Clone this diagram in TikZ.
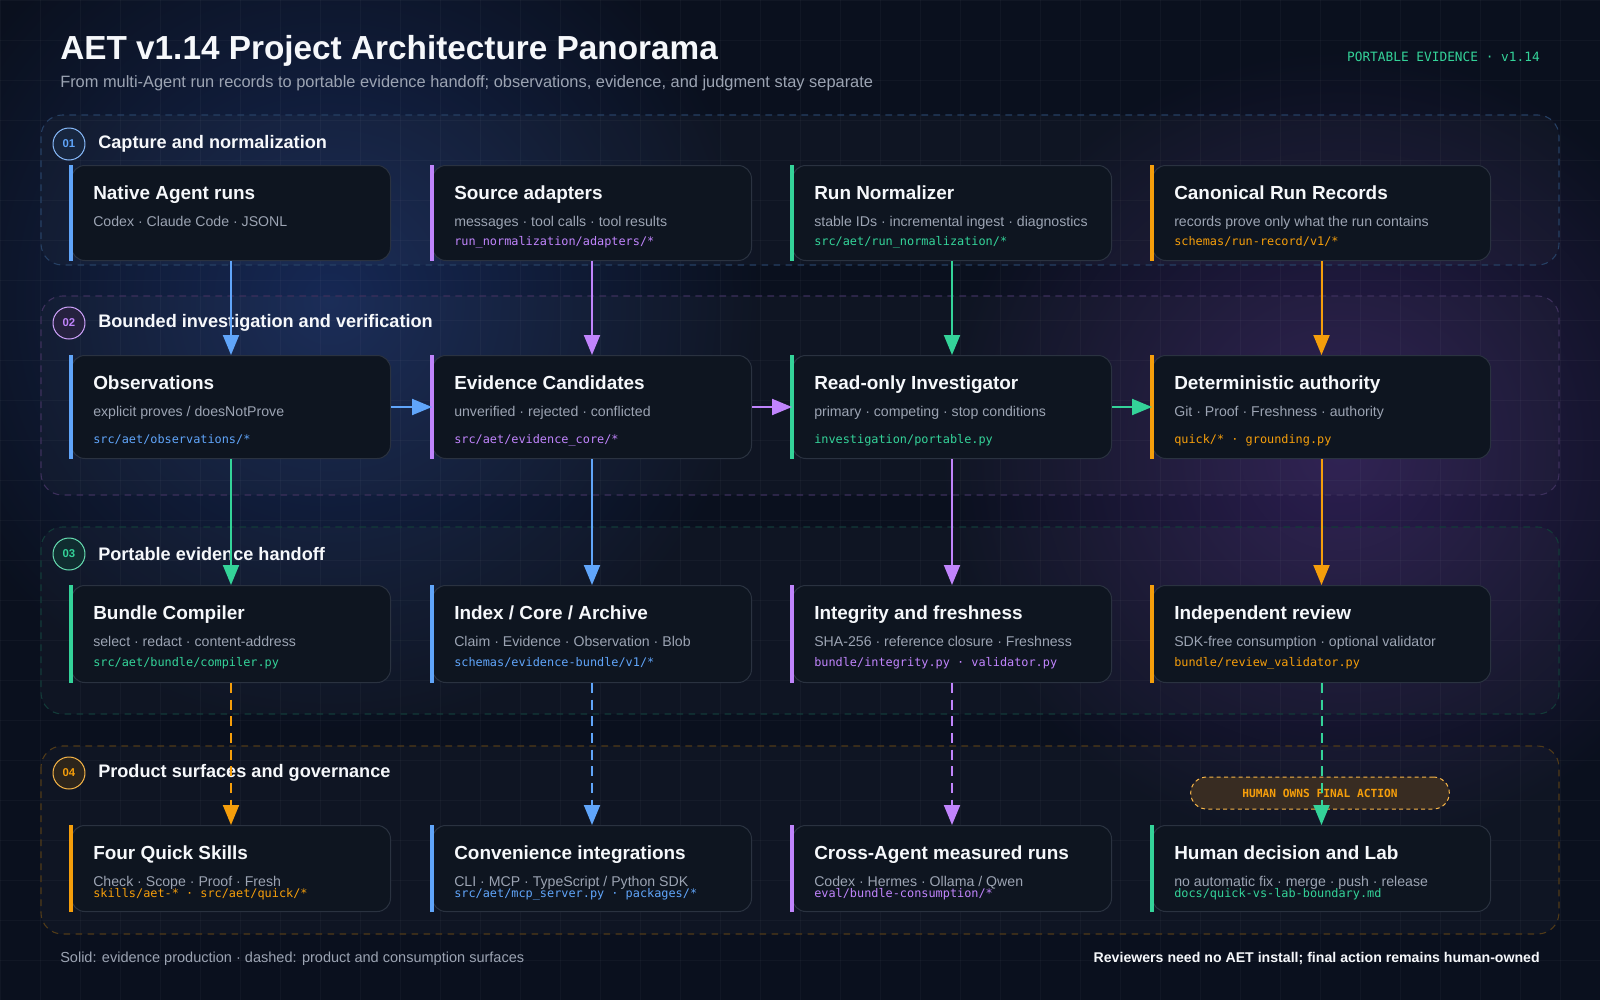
\documentclass[tikz,border=0pt]{standalone}
\usepackage{fontspec}
\setmainfont{Liberation Sans}
\setmonofont{DejaVu Sans Mono}
\usetikzlibrary{arrows.meta}

\begin{document}
\begin{tikzpicture}[x=0.75pt, y=-0.75pt, line join=round,
  card/.style={draw=cardline, fill=cardbg, line width=0.75pt, rounded corners=10pt,
    anchor=north west, inner sep=0pt, minimum width=239.25pt},
  wide/.style={minimum width=253.5pt},
  accent/.style={line width=3pt, line cap=butt},
  ttl/.style={anchor=base west, inner sep=0pt, text=titletext, font=\bfseries\fontsize{14.2pt}{16pt}\selectfont},
  subline/.style={anchor=base west, inner sep=0pt, text=subtext, font=\fontsize{10.6pt}{12pt}\selectfont},
  ref/.style={anchor=base west, inner sep=0pt, font=\ttfamily\fontsize{8.9pt}{10pt}\selectfont},
  band/.style={fill=white, fill opacity=0.025, line width=0.8pt, dash pattern=on 5pt off 4pt, rounded corners=16pt},
  badge/.style={circle, minimum size=24pt, inner sep=0pt, line width=0.75pt, font=\bfseries\fontsize{8.5pt}{9pt}\selectfont},
  bandlabel/.style={anchor=west, inner sep=0pt, text=titletext, font=\bfseries\fontsize{13.6pt}{15pt}\selectfont},
  flow/.style={line width=1.5pt, line cap=butt, -{Triangle[length=15pt,width=12pt]}},
  soft/.style={flow, dash pattern=on 7.5pt off 5pt}]
  \definecolor{bg}{RGB}{10,16,30}
  \definecolor{glowblue}{RGB}{22,40,84}
  \definecolor{glowpurple}{RGB}{44,30,80}
  \definecolor{cardbg}{RGB}{14,21,32}
  \definecolor{cardline}{RGB}{42,50,64}
  \definecolor{titletext}{RGB}{246,248,251}
  \definecolor{subtext}{RGB}{156,164,179}
  \definecolor{cblue}{RGB}{96,165,250}
  \definecolor{cpurple}{RGB}{192,132,252}
  \definecolor{cgreen}{RGB}{52,211,153}
  \definecolor{corange}{RGB}{245,158,11}
  \definecolor{pillbg}{RGB}{56,44,34}

  % background, glows, grid
  \fill[bg] (0,0) rectangle (1600,1000);
  \useasboundingbox (0,0) rectangle (1600,1000);
  \shade[inner color=glowblue, outer color=bg] (330,300) circle (430);
  \shade[inner color=glowpurple, outer color=bg] (1340,450) circle (400);
  \foreach \gx in {0,40,...,1600} \draw[white, line width=0.5pt, opacity=0.03] (\gx,0) -- (\gx,1000);
  \foreach \gy in {0,40,...,1000} \draw[white, line width=0.5pt, opacity=0.03] (0,\gy) -- (1600,\gy);

  % header
  \node[anchor=base west, inner sep=0pt, text=titletext, font=\bfseries\fontsize{25pt}{28pt}\selectfont]
    (title) at (60,59) {AET v1.14 Project Architecture Panorama};
  \node[anchor=base west, inner sep=0pt, text=subtext, font=\fontsize{12.3pt}{14pt}\selectfont]
    (subtitle) at (60,87) {From multi-Agent run records to portable evidence handoff; observations, evidence, and judgment stay separate};
  \node[anchor=base east, inner sep=0pt, text=cgreen, font=\ttfamily\fontsize{9.6pt}{11pt}\selectfont]
    (tag) at (1540,61) {PORTABLE EVIDENCE · v1.14};

  % bands
  \draw[band, draw=cblue!32!bg] (41,115) rectangle (1559,265);
  \draw[band, draw=cpurple!28!bg] (41,296) rectangle (1559,495);
  \draw[band, draw=cgreen!22!bg] (41,527) rectangle (1559,714);
  \draw[band, draw=corange!30!bg] (41,746) rectangle (1559,934);
  \node[badge, draw=cblue!75, fill=cblue!15!bg, text=cblue] (b1) at (69,144) {01};
  \node[badge, draw=cpurple!75, fill=cpurple!15!bg, text=cpurple] (b2) at (69,323) {02};
  \node[badge, draw=cgreen!75, fill=cgreen!15!bg, text=cgreen] (b3) at (69,554) {03};
  \node[badge, draw=corange!75, fill=corange!15!bg, text=corange] (b4) at (69,773) {04};
  \node[bandlabel] (l1) at (98,144) {Capture and normalization};
  \node[bandlabel] (l2) at (98,323) {Bounded investigation and verification};
  \node[bandlabel] (l3) at (98,554) {Portable evidence handoff};
  \node[bandlabel] (l4) at (98,773) {Product surfaces and governance};

  % row 1
  \node[card, minimum height=71.25pt] (native) at (71,165) {};
  \draw[accent, cblue] (native.north west) -- (native.south west);
  \node[ttl] (native-t) at ([shift={(22,34)}]native.north west) {Native Agent runs};
  \node[subline] (native-s) at ([shift={(22,61)}]native.north west) {Codex · Claude Code · JSONL};

  \node[card, minimum height=71.25pt] (adapters) at (432,165) {};
  \draw[accent, cpurple] (adapters.north west) -- (adapters.south west);
  \node[ttl] (adapters-t) at ([shift={(22,34)}]adapters.north west) {Source adapters};
  \node[subline] (adapters-s) at ([shift={(22,61)}]adapters.north west) {messages · tool calls · tool results};
  \node[ref, text=cpurple] (adapters-r) at ([shift={(22,80)}]adapters.north west) {run\_normalization/adapters/*};

  \node[card, minimum height=71.25pt] (normalizer) at (792,165) {};
  \draw[accent, cgreen] (normalizer.north west) -- (normalizer.south west);
  \node[ttl] (normalizer-t) at ([shift={(22,34)}]normalizer.north west) {Run Normalizer};
  \node[subline] (normalizer-s) at ([shift={(22,61)}]normalizer.north west) {stable IDs · incremental ingest · diagnostics};
  \node[ref, text=cgreen] (normalizer-r) at ([shift={(22,80)}]normalizer.north west) {src/aet/run\_normalization/*};

  \node[card, wide, minimum height=71.25pt] (records) at (1152,165) {};
  \draw[accent, corange] (records.north west) -- (records.south west);
  \node[ttl] (records-t) at ([shift={(22,34)}]records.north west) {Canonical Run Records};
  \node[subline] (records-s) at ([shift={(22,61)}]records.north west) {records prove only what the run contains};
  \node[ref, text=corange] (records-r) at ([shift={(22,80)}]records.north west) {schemas/run-record/v1/*};

  % row 2
  \node[card, minimum height=77.25pt] (obs) at (71,355) {};
  \draw[accent, cblue] (obs.north west) -- (obs.south west);
  \node[ttl] (obs-t) at ([shift={(22,34)}]obs.north west) {Observations};
  \node[subline] (obs-s) at ([shift={(22,61)}]obs.north west) {explicit proves / doesNotProve};
  \node[ref, text=cblue] (obs-r) at ([shift={(22,88)}]obs.north west) {src/aet/observations/*};

  \node[card, minimum height=77.25pt] (cands) at (432,355) {};
  \draw[accent, cpurple] (cands.north west) -- (cands.south west);
  \node[ttl] (cands-t) at ([shift={(22,34)}]cands.north west) {Evidence Candidates};
  \node[subline] (cands-s) at ([shift={(22,61)}]cands.north west) {unverified · rejected · conflicted};
  \node[ref, text=cpurple] (cands-r) at ([shift={(22,88)}]cands.north west) {src/aet/evidence\_core/*};

  \node[card, minimum height=77.25pt] (investigator) at (792,355) {};
  \draw[accent, cgreen] (investigator.north west) -- (investigator.south west);
  \node[ttl] (investigator-t) at ([shift={(22,34)}]investigator.north west) {Read-only Investigator};
  \node[subline] (investigator-s) at ([shift={(22,61)}]investigator.north west) {primary · competing · stop conditions};
  \node[ref, text=cgreen] (investigator-r) at ([shift={(22,88)}]investigator.north west) {investigation/portable.py};

  \node[card, wide, minimum height=77.25pt] (authority) at (1152,355) {};
  \draw[accent, corange] (authority.north west) -- (authority.south west);
  \node[ttl] (authority-t) at ([shift={(22,34)}]authority.north west) {Deterministic authority};
  \node[subline] (authority-s) at ([shift={(22,61)}]authority.north west) {Git · Proof · Freshness · authority};
  \node[ref, text=corange] (authority-r) at ([shift={(22,88)}]authority.north west) {quick/* · grounding.py};

  % row 3
  \node[card, minimum height=72.75pt] (compiler) at (71,585) {};
  \draw[accent, cgreen] (compiler.north west) -- (compiler.south west);
  \node[ttl] (compiler-t) at ([shift={(22,34)}]compiler.north west) {Bundle Compiler};
  \node[subline] (compiler-s) at ([shift={(22,61)}]compiler.north west) {select · redact · content-address};
  \node[ref, text=cgreen] (compiler-r) at ([shift={(22,81)}]compiler.north west) {src/aet/bundle/compiler.py};

  \node[card, minimum height=72.75pt] (archive) at (432,585) {};
  \draw[accent, cblue] (archive.north west) -- (archive.south west);
  \node[ttl] (archive-t) at ([shift={(22,34)}]archive.north west) {Index / Core / Archive};
  \node[subline] (archive-s) at ([shift={(22,61)}]archive.north west) {Claim · Evidence · Observation · Blob};
  \node[ref, text=cblue] (archive-r) at ([shift={(22,81)}]archive.north west) {schemas/evidence-bundle/v1/*};

  \node[card, minimum height=72.75pt] (integrity) at (792,585) {};
  \draw[accent, cpurple] (integrity.north west) -- (integrity.south west);
  \node[ttl] (integrity-t) at ([shift={(22,34)}]integrity.north west) {Integrity and freshness};
  \node[subline] (integrity-s) at ([shift={(22,61)}]integrity.north west) {SHA-256 · reference closure · Freshness};
  \node[ref, text=cpurple] (integrity-r) at ([shift={(22,81)}]integrity.north west) {bundle/integrity.py · validator.py};

  \node[card, wide, minimum height=72.75pt] (review) at (1152,585) {};
  \draw[accent, corange] (review.north west) -- (review.south west);
  \node[ttl] (review-t) at ([shift={(22,34)}]review.north west) {Independent review};
  \node[subline] (review-s) at ([shift={(22,61)}]review.north west) {SDK-free consumption · optional validator};
  \node[ref, text=corange] (review-r) at ([shift={(22,81)}]review.north west) {bundle/review\_validator.py};

  % row 4
  \node[card, minimum height=64.5pt] (skills) at (71,825) {};
  \draw[accent, corange] (skills.north west) -- (skills.south west);
  \node[ttl] (skills-t) at ([shift={(22,34)}]skills.north west) {Four Quick Skills};
  \node[subline] (skills-s) at ([shift={(22,61)}]skills.north west) {Check · Scope · Proof · Fresh};
  \node[ref, text=corange] (skills-r) at ([shift={(22,72)}]skills.north west) {skills/aet-* · src/aet/quick/*};

  \node[card, minimum height=64.5pt] (integrations) at (432,825) {};
  \draw[accent, cblue] (integrations.north west) -- (integrations.south west);
  \node[ttl] (integrations-t) at ([shift={(22,34)}]integrations.north west) {Convenience integrations};
  \node[subline] (integrations-s) at ([shift={(22,61)}]integrations.north west) {CLI · MCP · TypeScript / Python SDK};
  \node[ref, text=cblue] (integrations-r) at ([shift={(22,72)}]integrations.north west) {src/aet/mcp\_server.py · packages/*};

  \node[card, minimum height=64.5pt] (crossagent) at (792,825) {};
  \draw[accent, cpurple] (crossagent.north west) -- (crossagent.south west);
  \node[ttl] (crossagent-t) at ([shift={(22,34)}]crossagent.north west) {Cross-Agent measured runs};
  \node[subline] (crossagent-s) at ([shift={(22,61)}]crossagent.north west) {Codex · Hermes · Ollama / Qwen};
  \node[ref, text=cpurple] (crossagent-r) at ([shift={(22,72)}]crossagent.north west) {eval/bundle-consumption/*};

  \node[card, wide, minimum height=64.5pt] (human) at (1152,825) {};
  \draw[accent, cgreen] (human.north west) -- (human.south west);
  \node[ttl] (human-t) at ([shift={(22,34)}]human.north west) {Human decision and Lab};
  \node[subline] (human-s) at ([shift={(22,61)}]human.north west) {no automatic fix · merge · push · release};
  \node[ref, text=cgreen] (human-r) at ([shift={(22,72)}]human.north west) {docs/quick-vs-lab-boundary.md};

  % flows
  \draw[flow, cblue] (native.south) -- (obs.north);
  \draw[flow, cpurple] (adapters.south) -- (cands.north);
  \draw[flow, cgreen] (normalizer.south) -- (investigator.north);
  \draw[flow, corange] (records.south) -- (authority.north);
  \draw[flow, cblue] (obs.east) -- (cands.west);
  \draw[flow, cpurple] (cands.east) -- (investigator.west);
  \draw[flow, cgreen] (investigator.east) -- (authority.west);
  \draw[flow, cgreen] (obs.south) -- (compiler.north);
  \draw[flow, cblue] (cands.south) -- (archive.north);
  \draw[flow, cpurple] (investigator.south) -- (integrity.north);
  \draw[flow, corange] (authority.south) -- (review.north);
  \draw[soft, corange] (compiler.south) -- (skills.north);
  \draw[soft, cblue] (archive.south) -- (integrations.north);
  \draw[soft, cpurple] (integrity.south) -- (crossagent.north);
  \node[draw=corange!75, fill=pillbg, dash pattern=on 3pt off 2.5pt, line width=0.75pt, rounded corners=12pt,
    minimum width=194pt, minimum height=24pt, text=corange, font=\ttfamily\bfseries\fontsize{8.4pt}{10pt}\selectfont]
    (owner) at (1320,793) {HUMAN OWNS FINAL ACTION};
  \draw[soft, cgreen] (review.south) -- (human.north);

  % footer
  \node[anchor=base west, inner sep=0pt, text=subtext, font=\fontsize{10.9pt}{12pt}\selectfont]
    (legend) at (60,962) {Solid: evidence production · dashed: product and consumption surfaces};
  \node[anchor=base east, inner sep=0pt, text=titletext, font=\bfseries\fontsize{10.6pt}{12pt}\selectfont]
    (note) at (1540,962) {Reviewers need no AET install; final action remains human-owned};
\end{tikzpicture}
\end{document}
